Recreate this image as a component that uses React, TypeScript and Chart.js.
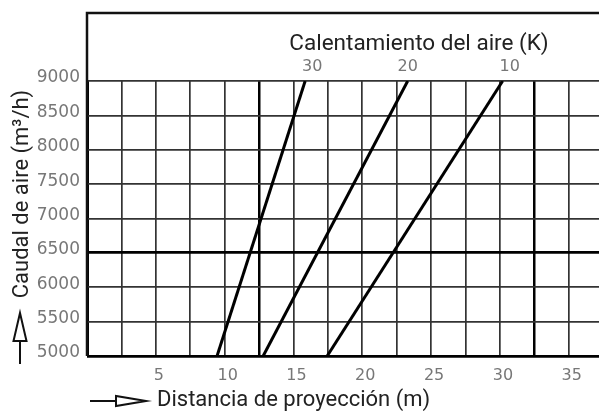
import React, { useEffect, useRef } from "react";
import { Chart, registerables } from "chart.js";

Chart.register(...registerables);

// Data
const heatingLabels = ["30", "20", "10"]; // Calentamiento del aire (K)
const airflowEnds = [5000, 9000]; // Caudal de aire (m³/h)
const distance30K = [9.45, 15.85]; // Distancia (m) at 5000 and 9000 m³/h
const distance20K = [12.8, 23.3];
const distance10K = [17.45, 30.2];
const xTickLabels = [5, 10, 15, 20, 25, 30, 35];
const yTickValues = [5000, 5500, 6000, 6500, 7000, 7500, 8000, 8500, 9000];
const thickX = [0, 12.5, 32.5];
const thickY = [5000, 6500];

const xTitle = "Distancia de proyección (m)";
const yTitle = "Caudal de aire (m³/h)";
const topTitle = "Calentamiento del aire (K)";

const TICK_FONT = "'DejaVu Sans'";
const TITLE_FONT = "Roboto";

const seriesList = [distance30K, distance20K, distance10K];

const decorPlugin = {
  id: "decor",
  afterDraw(chart: any) {
    const ctx = chart.ctx as CanvasRenderingContext2D;
    const ca = chart.chartArea;
    const xs = chart.scales.x;
    const frameTop = 13;
    ctx.save();
    // frame above plot
    ctx.strokeStyle = "#111";
    ctx.lineWidth = 2.5;
    ctx.beginPath();
    ctx.moveTo(ca.left, ca.bottom);
    ctx.lineTo(ca.left, frameTop);
    ctx.lineTo(chart.width, frameTop);
    ctx.stroke();

    // top title
    ctx.fillStyle = "#222";
    ctx.font = `22.5px ${TITLE_FONT}`;
    ctx.textAlign = "center";
    ctx.textBaseline = "middle";
    ctx.fillText(topTitle, 419, 44);

    // line labels
    ctx.fillStyle = "#777";
    ctx.font = `16px ${TICK_FONT}`;
    const offs = [7, 0, 7];
    heatingLabels.forEach((lab, i) => {
      const s = seriesList[i];
      const px = xs.getPixelForValue(s[1]) + offs[i];
      ctx.fillText(lab, px, 67);
    });

    // y title
    ctx.fillStyle = "#222";
    ctx.font = `22px ${TITLE_FONT}`;
    ctx.save();
    ctx.translate(22, 194);
    ctx.rotate(-Math.PI / 2);
    ctx.textAlign = "center";
    ctx.textBaseline = "middle";
    ctx.fillText(yTitle, 0, 0);
    ctx.restore();

    // x title
    ctx.font = `22px ${TITLE_FONT}`;
    ctx.textAlign = "left";
    ctx.textBaseline = "middle";
    ctx.fillText(xTitle, 157, 400);

    // up arrow
    ctx.strokeStyle = "#111";
    ctx.lineWidth = 2;
    ctx.beginPath();
    ctx.moveTo(20, 364);
    ctx.lineTo(20, 341);
    ctx.stroke();
    ctx.beginPath();
    ctx.moveTo(20, 313);
    ctx.lineTo(26.5, 341);
    ctx.lineTo(13.5, 341);
    ctx.closePath();
    ctx.stroke();

    // right arrow
    ctx.beginPath();
    ctx.moveTo(90, 401);
    ctx.lineTo(116, 401);
    ctx.stroke();
    ctx.beginPath();
    ctx.moveTo(146, 401);
    ctx.lineTo(116, 396);
    ctx.lineTo(116, 406);
    ctx.closePath();
    ctx.stroke();
    ctx.restore();
  },
};

export default function App() {
  const ref = useRef<HTMLCanvasElement | null>(null);
  useEffect(() => {
    if (!ref.current) return;
    const chart = new Chart(ref.current, {
      type: "line",
      data: {
        datasets: seriesList.map((s, i) => ({
          label: heatingLabels[i],
          data: s.map((x, j) => ({ x, y: airflowEnds[j] })),
          borderColor: "#000",
          borderWidth: 3,
          pointRadius: 0,
          fill: false,
          tension: 0,
        })),
      },
      options: {
        responsive: false,
        animation: false,
        maintainAspectRatio: false,
        layout: { padding: { top: 81, right: 0, left: 0, bottom: 0 } },
        plugins: { legend: { display: false }, tooltip: { enabled: false }, title: { display: false } },
        scales: {
          x: {
            type: "linear",
            min: 0,
            max: 37.2,
            border: { display: false },
            afterFit(scale: any) {
              scale.height = 56;
            },
            grid: {
              drawTicks: false,
              color: (c: any) => (thickX.includes(c.tick?.value) ? "#000" : "#333"),
              lineWidth: (c: any) => (c.tick?.value === 0 ? 3 : thickX.includes(c.tick?.value) ? 2.5 : 1.7),
            },
            ticks: {
              stepSize: 2.5,
              includeBounds: false,
              autoSkip: false,
              maxRotation: 0,
              padding: 10,
              labelOffset: 3,
              color: "#777",
              font: { family: TICK_FONT, size: 16 },
              callback: (v: any) => (xTickLabels.includes(Number(v)) ? String(v) : ""),
            },
          },
          y: {
            type: "linear",
            min: 5000,
            max: 9000,
            border: { display: false },
            afterFit(scale: any) {
              scale.width = 87;
            },
            grid: {
              drawTicks: false,
              color: (c: any) => (thickY.includes(c.tick?.value) ? "#000" : "#333"),
              lineWidth: (c: any) => (thickY.includes(c.tick?.value) ? 2.8 : 1.7),
            },
            afterBuildTicks(scale: any) {
              scale.ticks = yTickValues.map((v) => ({ value: v }));
            },
            ticks: {
              autoSkip: false,
              padding: 7,
              labelOffset: -3,
              color: "#777",
              font: { family: TICK_FONT, size: 17 },
              callback: (v: any) => String(v),
            },
          },
        },
      },
      plugins: [decorPlugin],
    });
    return () => chart.destroy();
  }, []);
  return (
    <div style={{ position: "fixed", left: 0, top: 0, width: 599, height: 412, background: "#fff" }}>
      <canvas ref={ref} width={599} height={412} style={{ width: 599, height: 412, display: "block" }} />
    </div>
  );
}
